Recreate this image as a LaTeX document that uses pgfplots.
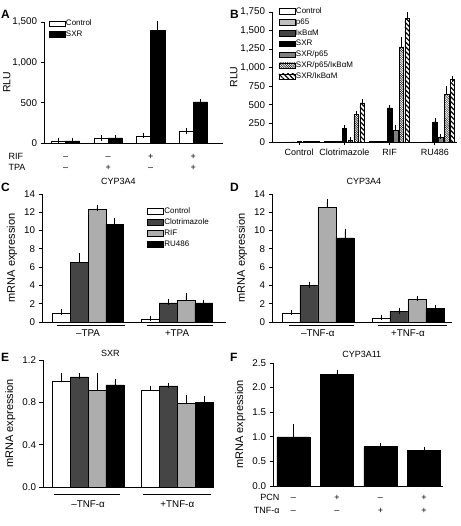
\documentclass[border=0pt]{standalone}
\usepackage{pgfplots}
\pgfplotsset{compat=1.18}
\usepackage{fontspec}
\setmainfont{Liberation Sans}
\usetikzlibrary{patterns.meta}

\newcommand\TN{\fontsize{9.8}{11}\selectfont}
\newcommand\LG{\fontsize{8}{9}\selectfont}
\newcommand\SG{\fontsize{9}{10}\selectfont}
\newcommand\LB{\fontsize{11}{12}\selectfont}
\newcommand\LR{\fontsize{10.5}{12}\selectfont}
\newcommand\TT{\fontsize{9}{10}\selectfont}
\newcommand\PL{\bfseries\fontsize{12}{13}\selectfont}

\definecolor{dkg}{gray}{0.27}
\definecolor{ltg}{gray}{0.68}
\definecolor{pg}{gray}{0.75}
\definecolor{mdg}{gray}{0.5}

\newcommand\sgn[3]{\node[font=\SG, anchor=base, yshift=#2] at (axis cs:#1,0) {#3};}
\newcommand\uline[3]{\draw[line width=0.8pt] ([yshift=#3]axis cs:#1,0) -- ([yshift=#3]axis cs:#2,0);}
\newcommand\glab[3]{\node[font=\TN, anchor=base, yshift=#2] at (axis cs:#1,0) {#3};}

\pgfplotsset{
 panel/.style={scale only axis, anchor=south west, axis lines*=left, ymin=0, ybar, clip=false,
   axis line style={line width=0.8pt}, tick align=outside, major tick length=3.5pt,
   tick style={black, line width=0.8pt},
   tick label style={font=\TN}, label style={font=\LB},
   /pgf/number format/assume math mode=true, scaled y ticks=false,
   xtick=\empty, legend cell align=left,
   legend image code/.code={\draw[##1] (0pt,-2.8pt) rectangle (16pt,2.8pt);},
   legend style={draw=none, fill=none, font=\LG, inner sep=0pt, row sep=2.1pt,
     nodes={inner sep=0.8pt}, anchor=north west},
 },
 eb/.style={error bars/y dir=plus, error bars/y explicit,
   error bars/error bar style={line width=0.6pt, black, solid},
   error bars/error mark options={line width=0.6pt, mark size=2.8pt, black, solid}},
 bw/.style={fill=white, draw=black, line width=0.5pt},
 bk/.style={fill=black, draw=black, line width=0.5pt},
 bd/.style={fill=dkg, draw=black, line width=0.5pt},
 bl/.style={fill=ltg, draw=black, line width=0.5pt},
 bp/.style={fill=pg, draw=black, line width=0.5pt},
 bm/.style={fill=mdg, draw=black, line width=0.5pt},
 bh/.style={pattern={Lines[angle=-45,distance=1.6pt,line width=0.45pt]}, draw=black, line width=0.5pt},
 bs/.style={pattern={Lines[angle=-45,distance=3.4pt,line width=1.2pt]}, draw=black, line width=0.5pt},
}

\begin{document}
\begin{tikzpicture}
\useasboundingbox (0,0) rectangle (460pt,526pt);

% ---------------- A
\node[font=\PL, anchor=north west, inner sep=0pt] at (1pt,516pt) {A};
\begin{axis}[panel, at={(44pt,383pt)}, width=179pt, height=121pt,
  xmin=-0.51, xmax=3.70, ymax=1500, ytick={0,500,1000,1500}, bar width=0.33,
  ylabel={RLU}, ylabel style={font=\LR}, ylabel shift=-5pt, legend style={at={(0.025,1.025)}}]
\addplot[bw, eb, bar shift=-0.165] coordinates {(0,25)+-(0,3) (1,60)+-(0,4) (2,85)+-(0,8) (3,145)+-(0,4)};
\addplot[bk, eb, bar shift=0.165] coordinates {(0,27)+-(0,2) (1,62)+-(0,4) (2,1400)+-(0,80) (3,510)+-(0,6)};
\legend{Control,SXR}
\sgn{0}{-16.5pt}{–}\sgn{1}{-16.5pt}{–}\sgn{2}{-16.5pt}{+}\sgn{3}{-16.5pt}{+}
\sgn{0}{-28pt}{–}\sgn{1}{-28pt}{+}\sgn{2}{-28pt}{–}\sgn{3}{-28pt}{+}
\node[font=\SG, anchor=base west, xshift=-39pt, yshift=-16.5pt] at (rel axis cs:0,0) {RIF};
\node[font=\SG, anchor=base west, xshift=-39pt, yshift=-28pt] at (rel axis cs:0,0) {TPA};
\end{axis}

% ---------------- B
\node[font=\PL, anchor=north west, inner sep=0pt] at (230pt,516pt) {B};
\begin{axis}[panel, at={(272pt,384pt)}, width=185pt, height=130pt,
  xmin=-0.6, xmax=3.49, ymax=1750, ytick={0,250,...,1750}, bar width=0.1,
  xtick={0,1,2,3}, xticklabels={Control,Clotrimazole,RIF,RU486},
  xticklabel style={font=\SG},
  ylabel={RLU}, ylabel style={font=\LR}, ylabel shift=-4pt, legend style={at={(0.035,1.04)}}]
\addplot[bw, eb, bar shift=-0.39] coordinates {(0,3) (1,4) (2,12) (3,3)};
\addplot[bp, eb, bar shift=-0.26] coordinates {(0,3) (1,4) (2,12) (3,3)};
\addplot[bd, eb, bar shift=-0.13] coordinates {(0,3) (1,4) (2,12) (3,3)};
\addplot[bk, eb, bar shift=0] coordinates {(0,4) (1,180)+-(0,10) (2,460)+-(0,5) (3,270)+-(0,10)};
\addplot[bm, eb, bar shift=0.13] coordinates {(0,4) (1,20)+-(0,3) (2,160)+-(0,25) (3,70)+-(0,5)};
\addplot[bh, eb, bar shift=0.26] coordinates {(0,12) (1,375)+-(0,10) (2,1280)+-(0,100) (3,640)+-(0,70)};
\addplot[bs, eb, bar shift=0.39] coordinates {(0,12) (1,525)+-(0,12) (2,1660)+-(0,55) (3,840)+-(0,8)};
\legend{Control,p65,IκBαM,SXR,SXR/p65,SXR/p65/IκBαM,SXR/IκBαM}
\end{axis}

% ---------------- C
\node[font=\PL, anchor=north west, inner sep=0pt] at (1pt,343pt) {C};
\begin{axis}[panel, at={(42pt,204pt)}, width=184pt, height=128pt,
  xmin=-0.517, xmax=1.55, ymax=14, ytick={0,2,...,14}, bar width=0.2,
  ylabel={mRNA expression}, legend style={at={(0.57,0.9)}}]
\addplot[bw, eb, bar shift=-0.3] coordinates {(0,1.0)+-(0,0.08) (1,0.3)+-(0,0.1)};
\addplot[bd, eb, bar shift=-0.1] coordinates {(0,6.5)+-(0,0.7) (1,2.1)+-(0,0.1)};
\addplot[bl, eb, bar shift=0.1] coordinates {(0,12.3)+-(0,0.2) (1,2.35)+-(0,0.5)};
\addplot[bk, eb, bar shift=0.3] coordinates {(0,10.7)+-(0,0.4) (1,2.1)+-(0,0.05)};
\legend{Control,Clotrimazole,RIF,RU486}
\node[font=\TT, anchor=base] at (axis cs:0.34,14) [yshift=9pt] {CYP3A4};
\uline{-0.35}{0.42}{-3pt}\uline{0.66}{1.4}{-3pt}
\glab{0}{-15pt}{–TPA}\glab{1}{-15pt}{+TPA}
\end{axis}

% ---------------- D
\node[font=\PL, anchor=north west, inner sep=0pt] at (230pt,343pt) {D};
\begin{axis}[panel, at={(272pt,204pt)}, width=180pt, height=128pt,
  xmin=-0.51, xmax=1.49, ymax=14, ytick={0,2,...,14}, bar width=0.2,
  ylabel={mRNA expression}]
\addplot[bw, eb, bar shift=-0.3] coordinates {(0,1.0)+-(0,0.03) (1,0.45)+-(0,0.05)};
\addplot[bd, eb, bar shift=-0.1] coordinates {(0,4.0)+-(0,0.07) (1,1.15)+-(0,0.08)};
\addplot[bl, eb, bar shift=0.1] coordinates {(0,12.5)+-(0,0.6) (1,2.5)+-(0,0.07)};
\addplot[bk, eb, bar shift=0.3] coordinates {(0,9.2)+-(0,0.7) (1,1.45)+-(0,0.05)};
\node[font=\TT, anchor=base] at (axis cs:0.51,14) [yshift=9pt] {CYP3A4};
\uline{-0.32}{0.4}{-3pt}\uline{0.67}{1.43}{-3pt}
\glab{0}{-15pt}{–TNF-α}\glab{1}{-15pt}{+TNF-α}
\end{axis}

% ---------------- E
\node[font=\PL, anchor=north west, inner sep=0pt] at (1pt,173pt) {E};
\begin{axis}[panel, at={(43pt,39pt)}, width=170pt, height=127pt,
  xmin=-0.506, xmax=1.40, ymax=1.2, ytick={0,0.4,0.8,1.2}, bar width=0.2,
  yticklabel style={/pgf/number format/.cd, fixed, fixed zerofill, precision=1},
  ylabel={mRNA expression}]
\addplot[bw, eb, bar shift=-0.3] coordinates {(0,1.0)+-(0,0.05) (1,0.91)+-(0,0.02)};
\addplot[bd, eb, bar shift=-0.1] coordinates {(0,1.04)+-(0,0.01) (1,0.955)+-(0,0.003)};
\addplot[bl, eb, bar shift=0.1] coordinates {(0,0.91)+-(0,0.14) (1,0.79)+-(0,0.05)};
\addplot[bk, eb, bar shift=0.3] coordinates {(0,0.965)+-(0,0.03) (1,0.80)+-(0,0.03)};
\node[font=\TT, anchor=base] at (axis cs:0.25,1.2) [yshift=3pt] {SXR};
\uline{-0.38}{0.36}{-7pt}\uline{0.62}{1.38}{-7pt}
\glab{0}{-21pt}{–TNF-α}\glab{1}{-21pt}{+TNF-α}
\end{axis}

% ---------------- F
\node[font=\PL, anchor=north west, inner sep=0pt] at (230pt,173pt) {F};
\begin{axis}[panel, at={(273pt,40pt)}, width=170pt, height=123pt,
  xmin=-0.47, xmax=3.44, ymax=2.5, ytick={0,0.5,...,2.5}, bar width=0.76,
  yticklabel style={/pgf/number format/.cd, fixed, fixed zerofill, precision=1},
  ylabel={mRNA expression}]
\addplot[bk, eb, bar shift=0] coordinates {(0,1.0)+-(0,0.2) (1,2.27)+-(0,0.04) (2,0.8)+-(0,0.01) (3,0.72)+-(0,0.02)};
\node[font=\TT, anchor=base] at (axis cs:1.57,2.5) [yshift=5pt] {CYP3A11};
\sgn{0}{-14.5pt}{–}\sgn{1}{-14.5pt}{+}\sgn{2}{-14.5pt}{–}\sgn{3}{-14.5pt}{+}
\sgn{0}{-27.5pt}{–}\sgn{1}{-27.5pt}{–}\sgn{2}{-27.5pt}{+}\sgn{3}{-27.5pt}{+}
\node[font=\SG, anchor=base east, xshift=10pt, yshift=-14.5pt] at (rel axis cs:0,0) {PCN};
\node[font=\SG, anchor=base east, xshift=10pt, yshift=-27.5pt] at (rel axis cs:0,0) {TNF-α};
\end{axis}
\end{tikzpicture}
\end{document}
